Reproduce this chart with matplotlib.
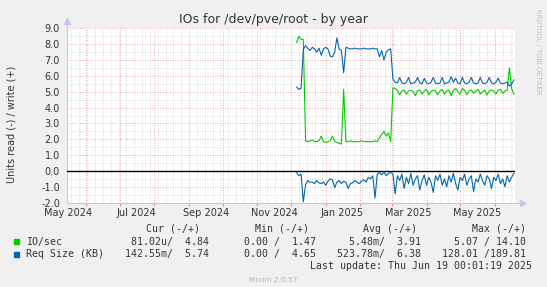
import numpy as np
import matplotlib
matplotlib.use('Agg')
import matplotlib.pyplot as plt
import matplotlib.dates as mdates
from matplotlib.patches import Rectangle

W, H = 547, 287

# ---------------- data ----------------
start_date = np.datetime64('2024-12-06')
step_days = 2
x_start = np.datetime64('2024-05-15')
x_end = np.datetime64('2025-06-19')

io_write = [8.1, 8.5, 8.3, 8.3,
            1.9, 1.85, 1.9, 1.95, 1.85, 1.85, 1.9,
            2.2, 1.85, 1.8, 1.85, 1.9,
            2.2, 1.85, 1.8, 1.75, 1.7,
            5.15,
            1.85, 1.85, 1.9, 1.85, 1.85, 1.85, 1.85, 1.9, 1.85, 1.85, 1.85, 1.85, 1.85, 1.9, 1.85,
            2.1, 2.3, 2.5, 2.2, 2.4, 1.85, 5.25,
            5.2, 5.1, 4.8, 5.05, 5.1, 4.85, 5.05, 5.1, 5.0, 4.75,
            5.05, 5.1, 4.85, 5.05, 5.15, 4.8, 5.0, 5.1, 5.05, 4.8,
            5.05, 5.15, 4.85, 5.05, 5.1, 4.75, 5.1, 5.2, 5.0, 4.85,
            5.2, 5.1, 4.8, 5.05, 5.1, 4.9, 5.05, 5.15, 4.85, 5.0,
            5.1, 4.8, 5.05, 5.1, 5.05, 4.85, 5.1, 5.15, 4.9, 5.05,
            5.1, 6.5, 5.2, 4.84]

req_write = [5.3, 5.15, 5.2,
             7.7,
             7.9, 7.75, 7.6, 7.8, 7.7, 7.5, 7.75,
             7.3, 7.7, 7.8, 7.7,
             7.25, 7.2, 7.5,
             8.4, 7.7, 7.6, 6.2, 7.8,
             7.75, 7.7, 7.7, 7.75, 7.7, 7.7, 7.7, 7.75, 7.7, 7.7, 7.7, 7.75, 7.7,
             7.7, 7.2, 7.6, 7.0, 7.5, 7.65, 7.7, 5.8,
             5.6, 5.55, 5.9, 5.55, 5.5, 5.6, 5.9, 5.5, 5.55, 5.6,
             5.9, 5.55, 5.5, 5.85, 5.55, 5.5, 5.6, 5.9, 5.55, 5.5,
             5.55, 5.9, 5.5, 5.55, 5.6, 5.95, 5.6, 5.85, 5.55, 5.5,
             5.9, 5.55, 5.5, 5.6, 5.9, 5.55, 5.5, 5.55, 5.9, 5.55,
             5.5, 5.6, 5.9, 5.55, 5.5, 5.6, 5.85, 5.55, 5.5, 5.55,
             5.6, 5.35, 5.5, 5.74]

req_read = [0.1, 0.3, 0.2,
            1.95,
            0.85, 0.6, 0.7, 0.7, 0.8, 0.6, 0.75,
            0.8, 0.7, 0.9, 0.65, 0.5, 0.55, 1.05, 0.7,
            0.6, 0.8, 0.65, 0.7, 1.1, 0.8, 0.75, 0.6, 0.7, 0.8, 0.65, 0.55, 0.7, 0.4, 0.5, 0.3, 1.7,
            0.2, 0.1, 0.25, 0.05, 0.3, 0.15, 0.1, 0.2,
            1.45, 0.3,
            0.6, 0.2, 1.1, 0.4, 0.8, 0.15, 0.9, 0.5, 0.3, 1.2,
            0.6, 0.25, 0.9, 0.4, 0.7, 1.35, 0.3, 0.6, 0.2, 0.9,
            0.5, 1.0, 0.3, 0.7, 0.15, 0.8, 1.2, 0.4, 0.6, 0.2,
            0.9, 0.5, 0.3, 1.3, 0.5, 0.7, 0.2, 0.6, 0.9, 0.3,
            0.5, 1.1, 0.4, 0.6, 0.2, 0.8, 0.5, 1.0, 0.3, 0.7,
            0.4, 0.14]

month_labels = ['May 2024', 'Jul 2024', 'Sep 2024', 'Nov 2024',
                'Jan 2025', 'Mar 2025', 'May 2025']
month_label_dates = ['2024-05-16', '2024-07-16', '2024-09-16', '2024-11-16',
                     '2025-01-16', '2025-03-16', '2025-05-16']

legend_header = ['Cur (-/+)', 'Min (-/+)', 'Avg (-/+)', 'Max (-/+)']
legend_rows = [
    ('IO/sec', '#00CC00', ['81.02u/  4.84', '0.00 /  1.47', '5.48m/  3.91', '5.07 / 14.10']),
    ('Req Size (KB)', '#0066B3', ['142.55m/  5.74', '0.00 /  4.65', '523.78m/  6.38', '128.01 /189.81']),
]

title = 'IOs for /dev/pve/root - by year'
ylabel = 'Units read (-) / write (+)'
last_update = 'Last update: Thu Jun 19 00:01:19 2025'
version = 'Munin 2.0.57'

# ---------------- figure ----------------
n = len(io_write)
dates = start_date + np.arange(n) * np.timedelta64(step_days, 'D')

fig = plt.figure(figsize=(W / 100, H / 100), dpi=100, facecolor='#f0f0f0')
left, right, top, bottom = 67, 515, 28.3, 202.7
ax = fig.add_axes([left / W, 1 - bottom / H, (right - left) / W, (bottom - top) / H])
ax.set_facecolor('white')

ax.set_xlim(x_start, x_end)
ax.set_ylim(-2, 9)

txt = '#333333'
axis_col = '#c4c8f0'

# grid
ax.xaxis.set_major_locator(mdates.MonthLocator())
ax.xaxis.set_minor_locator(mdates.WeekdayLocator(byweekday=mdates.SU))
ax.xaxis.set_major_formatter(plt.NullFormatter())
ax.set_yticks(np.arange(-2, 9.01, 1.0))
ax.set_yticks(np.arange(-2, 9.01, 0.5), minor=True)
ax.yaxis.set_major_formatter(plt.FuncFormatter(lambda v, p: f'{v:.1f}'))
ax.grid(which='minor', color='#cccccc', linestyle=(0, (1, 2)), linewidth=0.6)
ax.grid(which='major', color='#e89090', linestyle=(0, (1, 2)), linewidth=0.6)
ax.set_axisbelow(True)

ax.tick_params(axis='x', which='major', length=2, color='#e89090', labelbottom=False)
ax.tick_params(axis='x', which='minor', length=0)
ax.tick_params(axis='y', which='major', length=0, pad=5, labelsize=7, labelcolor=txt)
ax.tick_params(axis='y', which='minor', length=0)

for s in ['top', 'right']:
    ax.spines[s].set_visible(False)
for s in ['left', 'bottom']:
    ax.spines[s].set_color(axis_col)
    ax.spines[s].set_linewidth(0.8)

# arrows
ax.plot([0, 0], [1, 1.04], transform=ax.transAxes, color=axis_col, lw=0.8, clip_on=False)
ax.plot([0], [1.04], transform=ax.transAxes, marker='^', ms=4, color=axis_col, clip_on=False)
ax.plot([1, 1.018], [0, 0], transform=ax.transAxes, color=axis_col, lw=0.8, clip_on=False)
ax.plot([1.018], [0], transform=ax.transAxes, marker='>', ms=4, color=axis_col, clip_on=False)

# month labels
tr = ax.get_xaxis_transform()
for lab, d in zip(month_labels, month_label_dates):
    ax.text(np.datetime64(d), -(216.5 - bottom) / (bottom - top), lab, transform=tr,
            ha='center', va='baseline', fontsize=7, color=txt, clip_on=False)

# zero line
ax.axhline(0, color='black', lw=1.0, zorder=3)

# data
ax.plot(dates, io_write, color='#00CC00', lw=0.8, zorder=4)
ax.plot(dates, req_write, color='#0066B3', lw=0.8, zorder=4)
ax.plot(dates, -np.array(req_read), color='#0066B3', lw=0.8, zorder=4)


def ftext(x, y, s, **kw):
    fig.text(x / W, 1 - y / H, s, **kw)


ftext(273, 23.5, title, ha='center', va='baseline', fontsize=9, color=txt)
ftext(11.7, 124.7, ylabel, ha='center', va='center', rotation=90, fontsize=7, color=txt)
ftext(538, 52, 'RRDTOOL / TOBI OETIKER', ha='center', va='center', rotation=270,
      fontsize=4.8, color='#c0c0c0')

mono = dict(family='DejaVu Sans Mono', fontsize=7.1, color=txt, va='center')
header_right = [200.5, 308.7, 416.8, 526]
value_right = [209.3, 315.7, 421, 526]
for h, xr in zip(legend_header, header_right):
    ftext(xr, 228.6, h, ha='right', **mono)
row_y = [241.9, 254]
for (name, col, vals), y in zip(legend_rows, row_y):
    fig.add_artist(Rectangle((14 / W, 1 - (y + 2.5) / H), 5 / W, 5 / H,
                             transform=fig.transFigure, color=col))
    ftext(26.2, y, name, ha='left', **mono)
    for v, xr in zip(vals, value_right):
        ftext(xr, y, v, ha='right', **mono)
ftext(532, 266.3, last_update, ha='right', **mono)
ftext(273, 279.5, version, ha='center', va='center', fontsize=5.3, color='#b4b4b4')

fig.savefig('out.png', dpi=100, facecolor=fig.get_facecolor())
